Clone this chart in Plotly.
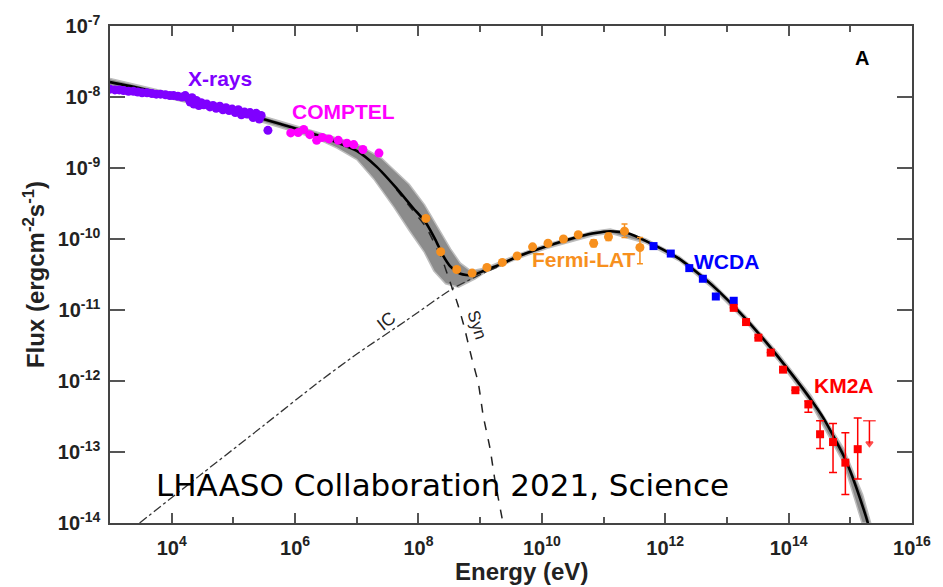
import numpy as np
import plotly.graph_objects as go

# ---------------- data (log10 values) ----------------
xray_logE = [3.0, 3.08, 3.15, 3.22, 3.3, 3.38, 3.45, 3.52, 3.6, 3.68, 3.75, 3.82, 3.9, 3.97,
             4.03, 4.1, 4.17, 4.22, 4.27, 4.3, 4.33, 4.36, 4.4, 4.44, 4.48, 4.52, 4.57, 4.62,
             4.67, 4.72, 4.78, 4.83, 4.88, 4.93, 4.98, 5.03, 5.08, 5.13, 5.18, 5.22, 5.27,
             5.32, 5.37, 5.42, 5.45, 5.56]
xray_logF = [-7.89, -7.90, -7.90, -7.91, -7.92, -7.92, -7.93, -7.94, -7.94, -7.95, -7.96, -7.96,
             -7.97, -7.98, -7.98, -7.99, -8.00, -7.98, -8.02, -8.07, -8.01, -8.10, -8.05, -8.12,
             -8.08, -8.11, -8.10, -8.14, -8.12, -8.16, -8.13, -8.18, -8.15, -8.19, -8.17, -8.22,
             -8.18, -8.25, -8.21, -8.24, -8.22, -8.29, -8.23, -8.31, -8.26, -8.47]

comptel_logE = [5.93, 6.05, 6.14, 6.24, 6.35, 6.44, 6.55, 6.70, 6.84, 6.95, 7.10, 7.36]
comptel_logF = [-8.506, -8.50, -8.456, -8.53, -8.61, -8.57, -8.59, -8.61, -8.65, -8.67, -8.74, -8.79]

fermi_logE = [8.12, 8.36, 8.62, 8.87, 9.11, 9.36, 9.60, 9.85, 10.10, 10.35, 10.59, 10.84, 11.08, 11.34, 11.59]
fermi_logF = [-9.71, -10.18, -10.43, -10.48, -10.40, -10.33, -10.24, -10.11, -10.06, -10.00, -9.94,
              -10.06, -9.97, -9.89, -10.12]
fermi_hi = [-9.71, -10.18, -10.43, -10.48, -10.40, -10.33, -10.24, -10.11, -10.06, -10.00, -9.94,
            -10.01, -9.92, -9.79, -9.98]
fermi_lo = [-9.71, -10.18, -10.43, -10.48, -10.40, -10.33, -10.24, -10.11, -10.06, -10.00, -9.94,
            -10.11, -10.02, -9.98, -10.35]

wcda_logE = [11.81, 12.09, 12.39, 12.61, 12.82, 13.11]
wcda_logF = [-10.10, -10.205, -10.41, -10.56, -10.81, -10.87]

km2a_logE = [13.11, 13.31, 13.51, 13.71, 13.91, 14.11, 14.32, 14.51, 14.72, 14.92, 15.12]
km2a_logF = [-10.97, -11.17, -11.39, -11.60, -11.84, -12.13, -12.33, -12.75, -12.86, -13.15, -12.96]
km2a_hi = [-10.97, -11.17, -11.39, -11.60, -11.84, -12.13, -12.28, -12.56, -12.60, -12.73, -12.52]
km2a_lo = [-10.97, -11.17, -11.39, -11.60, -11.84, -12.13, -12.44, -12.95, -13.29, -13.60, -13.38]

ul_logE = [15.31]
ul_top = [-12.56]
ul_tip = [-12.88]

total_logE = [3.0, 3.5, 4.0, 4.44, 5.0, 5.72, 6.04, 6.36, 6.68, 7.0, 7.32, 7.64, 7.91, 8.12, 8.28,
              8.39, 8.52, 8.68, 8.87, 9.08, 9.35, 9.6, 10.09, 10.5, 10.84, 11.11, 11.4, 11.69,
              12.23, 12.76, 13.29, 13.83, 14.36, 14.57, 14.89, 15.0, 15.25, 15.30]
total_logF = [-7.79, -7.88, -7.98, -8.06, -8.19, -8.37, -8.45, -8.54, -8.64, -8.76, -8.98, -9.28,
              -9.56, -9.77, -10.02, -10.22, -10.39, -10.49, -10.51, -10.44, -10.35, -10.25, -10.10,
              -9.99, -9.92, -9.89, -9.92, -10.03, -10.28, -10.65, -11.11, -11.66, -12.26, -12.53,
              -13.05, -13.27, -13.90, -14.05]

ic_logE = [3.48, 4.5, 5.5, 6.36, 7.0, 7.8, 8.55, 9.08, 9.35]
ic_logF = [-14.0, -13.30, -12.62, -12.03, -11.62, -11.15, -10.70, -10.47, -10.37]

syn_logE = [7.64, 7.91, 8.12, 8.28, 8.39, 8.47, 8.55, 8.63, 8.73, 8.87, 8.97, 9.05, 9.16, 9.24, 9.37]
syn_logF = [-9.30, -9.60, -9.83, -10.10, -10.30, -10.50, -10.70, -10.90, -11.20, -11.70, -12.03,
            -12.49, -12.95, -13.40, -14.0]

band_up_logE = [3.0, 4.0, 5.0, 5.72, 6.36, 6.68, 7.0, 7.4, 7.85, 8.1, 8.3, 8.52, 8.68, 8.85, 9.08,
                9.6, 10.09, 10.84, 11.11, 11.69, 12.23, 12.76, 13.29, 13.83, 14.36, 14.89, 15.2, 15.33]
band_up_logF = [-7.74, -7.94, -8.15, -8.33, -8.50, -8.58, -8.66, -8.86, -9.23, -9.52, -9.82, -10.14,
                -10.34, -10.45, -10.41, -10.22, -10.07, -9.89, -9.86, -10.00, -10.25, -10.61, -11.07,
                -11.61, -12.20, -12.95, -13.60, -14.0]
band_lo_logE = [3.0, 4.0, 5.0, 5.72, 6.36, 6.68, 7.0, 7.27, 7.6, 7.85, 8.09, 8.25, 8.44, 8.65, 8.92,
                9.08, 9.6, 10.09, 10.84, 11.11, 11.69, 12.23, 12.76, 13.29, 13.83, 14.36, 14.89, 15.19]
band_lo_logF = [-7.84, -8.03, -8.23, -8.42, -8.59, -8.72, -8.88, -9.15, -9.55, -9.88, -10.18, -10.45,
                -10.63, -10.68, -10.56, -10.47, -10.28, -10.13, -9.95, -9.92, -10.06, -10.31, -10.69,
                -11.15, -11.71, -12.32, -13.15, -14.0]

x_tick_exp = [4, 6, 8, 10, 12, 14, 16]
x_minor_exp = [5, 7, 9, 11, 13, 15]
y_tick_exp = [-14, -13, -12, -11, -10, -9, -8, -7]


def p(a):
    return np.power(10.0, np.asarray(a, dtype=float))


SANS = "Liberation Sans, Arial, Helvetica, sans-serif"
fig = go.Figure()

# uncertainty band
bx = np.concatenate([p(band_up_logE), p(band_lo_logE)[::-1]])
by = np.concatenate([p(band_up_logF), p(band_lo_logF)[::-1]])
fig.add_trace(go.Scatter(x=bx, y=by, fill="toself", mode="lines",
                         fillcolor="#8c8c8c", line=dict(color="#bdbdbd", width=1.5),
                         hoverinfo="skip", showlegend=False))

# components
fig.add_trace(go.Scatter(x=p(ic_logE), y=p(ic_logF), mode="lines",
                         line=dict(color="#333", width=1.3, dash="dashdot", shape="spline", smoothing=0.6),
                         showlegend=False))
fig.add_trace(go.Scatter(x=p(syn_logE), y=p(syn_logF), mode="lines",
                         line=dict(color="#222", width=1.5, dash="dash", shape="spline", smoothing=0.6),
                         showlegend=False))
# total model
fig.add_trace(go.Scatter(x=p(total_logE), y=p(total_logF), mode="lines",
                         line=dict(color="black", width=2.6, shape="spline", smoothing=0.6),
                         showlegend=False))

# data
fig.add_trace(go.Scatter(x=p(xray_logE), y=p(xray_logF), mode="markers",
                         marker=dict(color="#7f00ff", size=9, symbol="circle"), showlegend=False))
fig.add_trace(go.Scatter(x=p(comptel_logE), y=p(comptel_logF), mode="markers",
                         marker=dict(color="#ff00ff", size=9, symbol="circle"), showlegend=False))

fF = p(fermi_logF)
fig.add_trace(go.Scatter(x=p(fermi_logE), y=fF, mode="markers",
                         marker=dict(color="#f7901e", size=9, symbol="circle"),
                         error_y=dict(type="data", array=p(fermi_hi) - fF, arrayminus=fF - p(fermi_lo),
                                      color="#f7901e", thickness=1.5, width=3),
                         showlegend=False))
fig.add_trace(go.Scatter(x=p(wcda_logE), y=p(wcda_logF), mode="markers",
                         marker=dict(color="#0000ff", size=8, symbol="square"), showlegend=False))
kF = p(km2a_logF)
fig.add_trace(go.Scatter(x=p(km2a_logE), y=kF, mode="markers",
                         marker=dict(color="#ff0000", size=8, symbol="square"),
                         error_y=dict(type="data", array=p(km2a_hi) - kF, arrayminus=kF - p(km2a_lo),
                                      color="#ff0000", thickness=1.5, width=4),
                         showlegend=False))
# upper limit
fig.add_trace(go.Scatter(x=list(p(ul_logE)) * 2, y=list(p(ul_top)) + list(p(ul_tip)), mode="lines+markers",
                         line=dict(color="#ff0000", width=1.5),
                         marker=dict(symbol=["line-ew-open", "triangle-down"], size=[9, 6],
                                     color="#ff0000", line=dict(color="#ff0000", width=1.5)),
                         showlegend=False))

lab_font = dict(family=SANS, size=21, weight="bold")
annots = [
    dict(x=4.79, y=-7.744, text="X-rays", color="#7f00ff"),
    dict(x=6.78, y=-8.21, text="COMPTEL", color="#ff00ff"),
    dict(x=10.68, y=-10.29, text="Fermi-LAT", color="#f7901e"),
    dict(x=13.0, y=-10.31, text="WCDA", color="#0000ff"),
    dict(x=14.89, y=-12.07, text="KM2A", color="#ff0000"),
]
for a in annots:
    fig.add_annotation(x=a["x"], y=a["y"], text=a["text"], showarrow=False,
                       font=dict(lab_font, color=a["color"]))
fig.add_annotation(x=15.19, y=-7.45, text="A", showarrow=False,
                   font=dict(family=SANS, size=20, weight="bold", color="black"))
fig.add_annotation(x=7.48, y=-11.15, text="IC", showarrow=False, textangle=-38,
                   font=dict(family=SANS, size=18, color="#222"))
fig.add_annotation(x=8.94, y=-11.21, text="Syn", showarrow=False, textangle=73,
                   font=dict(family=SANS, size=17, color="#222"))
fig.add_annotation(x=8.39, y=-13.47, text="LHAASO Collaboration 2021, Science", showarrow=False,
                   font=dict(family="DejaVu Sans, sans-serif", size=31, color="black"))
# x-axis title (placed slightly right of centre, as in the original)
fig.add_annotation(xref="paper", yref="paper", x=0.513, y=-0.098, text="Energy (eV)",
                   showarrow=False, xanchor="center", yanchor="middle",
                   font=dict(family=SANS, size=24, weight="bold", color="#222"))

axis_common = dict(showline=True, linecolor="#444", linewidth=1.5, mirror="ticks", ticks="inside",
                   tickcolor="#555", tickwidth=1.5, showgrid=False, zeroline=False,
                   tickfont=dict(family=SANS, size=20, weight="bold", color="#222"))

fig.update_xaxes(type="log", range=[3, 16],
                 tickvals=[10.0 ** e for e in x_tick_exp],
                 ticktext=["10<sup>%d</sup>" % e for e in x_tick_exp],
                 ticklen=10, ticklabelstandoff=6,
                 minor=dict(tickvals=[10.0 ** e for e in x_minor_exp], ticklen=6, ticks="inside",
                            tickcolor="#555", tickwidth=1.5),
                 **axis_common)
fig.update_yaxes(type="log", range=[-14, -7],
                 tickvals=[10.0 ** e for e in y_tick_exp],
                 ticktext=["10<sup>%d</sup>" % e for e in y_tick_exp],
                 ticklen=15, ticklabelstandoff=4,
                 title=dict(text="Flux (ergcm<sup>-2</sup>s<sup>-1</sup>)", standoff=6,
                            font=dict(family=SANS, size=24, weight="bold", color="#222")),
                 **axis_common)

fig.update_layout(width=943, height=587, margin=dict(l=110, r=20, t=15, b=64),
                  plot_bgcolor="white", paper_bgcolor="white", showlegend=False)

fig.write_html("out.html")
